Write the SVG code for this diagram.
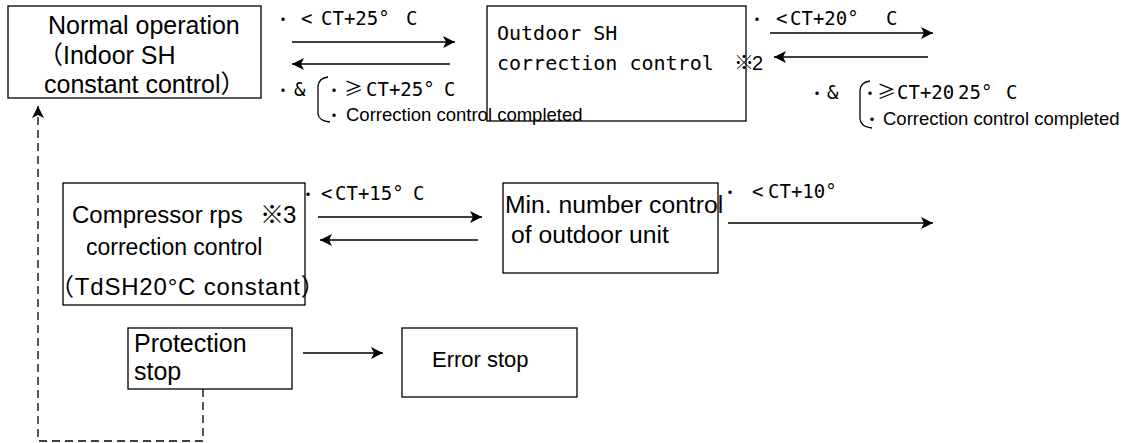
<svg xmlns="http://www.w3.org/2000/svg" width="1127" height="443" viewBox="0 0 1127 443">
<defs>
<style>
.box{fill:#fff;stroke:#000;stroke-width:1.3}
.sans{font-family:"Liberation Sans","Noto Sans CJK JP",sans-serif;fill:#000}
.mono{font-family:"DejaVu Sans Mono","Noto Sans CJK SC",monospace;fill:#000}
.cjk{font-family:"Noto Sans CJK SC","Noto Sans CJK JP",sans-serif}
.dot{font-family:"Noto Sans CJK SC","Noto Sans CJK JP",sans-serif;font-size:16px}
.ln{stroke:#000;stroke-width:1.3;fill:none}
.dash{stroke:#000;stroke-width:1.3;fill:none;stroke-dasharray:8 5}
</style>
<marker id="ah" viewBox="0 0 10 10" refX="10" refY="5" markerWidth="13" markerHeight="12" markerUnits="userSpaceOnUse" orient="auto">
<path d="M0,0 L10,5 L0,10 L2.5,5 z" fill="#000"/>
</marker>
</defs>
<rect width="1127" height="443" fill="#fff"/>

<g id="normal">
<rect class="box" x="8" y="6" width="253" height="92"/>
<text class="sans" font-size="25" x="48" y="34">Normal operation</text>
<text class="sans" font-size="25" x="38" y="64">（Indoor SH</text>
<text class="sans" font-size="25" x="44" y="93">constant control）</text>
</g>

<g id="outdoor-sh">
<rect class="box" x="487" y="6" width="259" height="115"/>
<text class="mono" font-size="20" x="497" y="40">Outdoor SH</text>
<text class="mono" font-size="20" y="70"><tspan x="497">correction control</tspan><tspan class="cjk" x="734">※</tspan><tspan font-family="Liberation Sans" x="752">2</tspan></text>
</g>

<g id="compressor">
<rect class="box" x="63" y="183" width="242" height="122"/>
<text class="sans" font-size="24" y="223"><tspan x="72">Compressor rps</tspan><tspan x="260">※</tspan><tspan x="283">3</tspan></text>
<text class="sans" font-size="23" x="86" y="255">correction control</text>
<text class="sans" font-size="24" x="50" y="295" letter-spacing="0.8">（TdSH20°C constant）</text>
</g>

<g id="min-number">
<rect class="box" x="503" y="183" width="215" height="90"/>
<text class="sans" font-size="24.7" x="505" y="213">Min. number control</text>
<text class="sans" font-size="24.7" x="511" y="243">of outdoor unit</text>
</g>

<g id="protection">
<rect class="box" x="128" y="328" width="164" height="61"/>
<text class="sans" font-size="25" x="134" y="352">Protection</text>
<text class="sans" font-size="25" x="134" y="380">stop</text>
</g>

<g id="error">
<rect class="box" x="402" y="328" width="175" height="69"/>
<text class="sans" font-size="22" x="432" y="367">Error stop</text>
</g>

<g id="connectors">
<line class="ln" x1="292" y1="42" x2="455" y2="42" marker-end="url(#ah)"/>
<line class="ln" x1="450" y1="64" x2="292" y2="64" marker-end="url(#ah)"/>
<line class="ln" x1="770" y1="33" x2="933" y2="33" marker-end="url(#ah)"/>
<line class="ln" x1="928" y1="57" x2="774" y2="57" marker-end="url(#ah)"/>
<line class="ln" x1="318" y1="217" x2="482" y2="217" marker-end="url(#ah)"/>
<line class="ln" x1="478" y1="240" x2="320" y2="240" marker-end="url(#ah)"/>
<line class="ln" x1="728" y1="223" x2="933" y2="223" marker-end="url(#ah)"/>
<line class="ln" x1="303" y1="353" x2="383" y2="353" marker-end="url(#ah)"/>
<path class="dash" d="M203,389 V441 H38 V106" marker-end="url(#ah)"/>
<path class="ln" d="M328,77 Q319,78 318,86 V114 Q319,121 330,122"/>
<path class="ln" d="M870,81 Q861,82 860,90 V119 Q861,127 872,128"/>
</g>

<g id="labels">
<text class="mono" font-size="19" y="25"><tspan class="dot" x="275">・</tspan><tspan x="301">&lt;</tspan><tspan x="321">CT+25°</tspan><tspan x="406">C</tspan></text>
<text class="mono" font-size="19" y="96"><tspan class="dot" x="275">・</tspan><tspan x="294">&amp;</tspan><tspan class="dot" x="326">・</tspan><tspan class="cjk" x="344">≥</tspan><tspan x="366">CT+25°</tspan><tspan x="444">C</tspan></text>
<text class="sans" font-size="18.5" y="121"><tspan class="dot" x="326">・</tspan><tspan x="346">Correction control completed</tspan></text>

<text class="mono" font-size="19" y="25"><tspan class="dot" x="749">・</tspan><tspan x="776">&lt;</tspan><tspan x="790">CT+20°</tspan><tspan x="886">C</tspan></text>
<text class="mono" font-size="19" y="99"><tspan class="dot" x="809">・</tspan><tspan x="827">&amp;</tspan><tspan class="dot" x="862">・</tspan><tspan class="cjk" x="877">≥</tspan><tspan x="897">CT+20</tspan><tspan x="958">25°</tspan><tspan x="1006">C</tspan></text>
<text class="sans" font-size="18.5" y="125"><tspan class="dot" x="864">・</tspan><tspan x="883">Correction control completed</tspan></text>

<text class="mono" font-size="19" y="200"><tspan class="dot" x="300">・</tspan><tspan x="321">&lt;</tspan><tspan x="335">CT+15°</tspan><tspan x="413">C</tspan></text>

<text class="mono" font-size="19" y="198"><tspan class="dot" x="722">・</tspan><tspan x="752">&lt;</tspan><tspan x="768">CT+10°</tspan></text>
</g>
</svg>
